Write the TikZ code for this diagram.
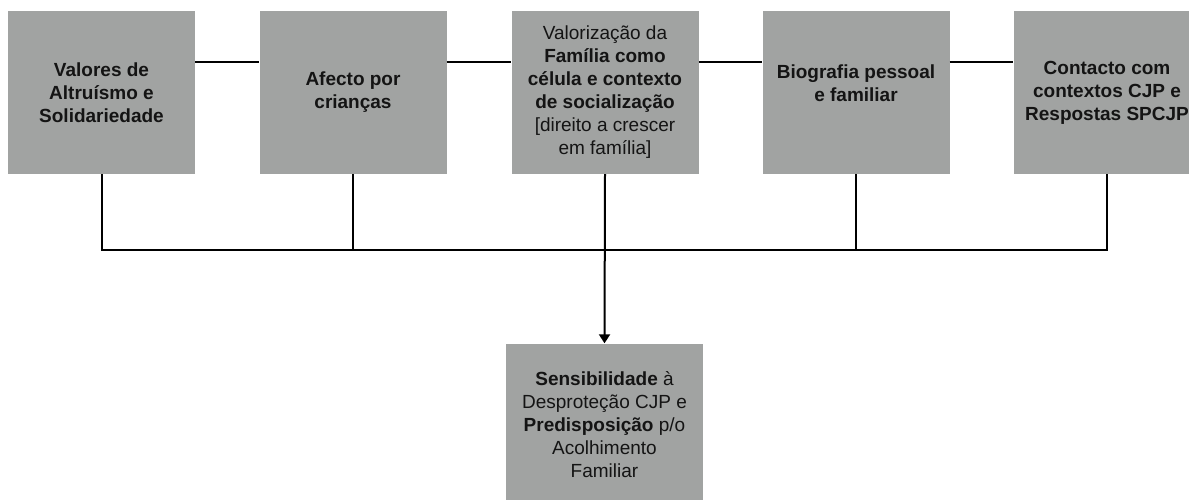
\documentclass[tikz,border=0pt]{standalone}
\usepackage{fontspec}
\setmainfont{Liberation Sans}
\usetikzlibrary{arrows.meta,calc}
\definecolor{boxgray}{RGB}{161,163,162}
\definecolor{txt}{RGB}{20,20,20}
\tikzset{
  card/.style={fill=boxgray, draw=none, minimum width=187pt, minimum height=163pt,
    inner sep=0pt, align=center, text=txt, font=\fontsize{19}{23}\selectfont},
  wire/.style={line width=2pt, draw=black},
}
\begin{document}
\begin{tikzpicture}[x=1pt,y=-1pt]
\useasboundingbox (0,0) rectangle (1189,499);
\clip (0,0) rectangle (1189,499);
\node[card] (b1) at (101.5,92.5) {\textbf{Valores de}\\\textbf{Altruísmo e}\\\textbf{Solidariedade}};
\node[card] (b2) at (353,92.5) {\textbf{Afecto por}\\\textbf{crianças}};
\node[card] (b3) at (605,92.5) {Valorização da\\\textbf{Família como}\\\textbf{célula e contexto}\\\textbf{de socialização}\\{[direito a crescer}\\em família]};
\node[card] (b4) at (856,92.5) {};
\node[font=\fontsize{19}{23}\selectfont, align=center, text=txt, inner sep=0pt] (b4t) at (856,83.5) {\textbf{Biografia pessoal}\\\textbf{e familiar}};
\node[card] (b5) at (1107,92.5) {\textbf{Contacto com}\\\textbf{contextos CJP e}\\\textbf{Respostas SPCJP}};
\node[card, minimum width=197pt] (b6) at (604.5,425) {\textbf{Sensibilidade} à\\Desproteção CJP e\\\textbf{Predisposição} p/o\\Acolhimento\\Familiar};
\coordinate (top) at (0,62);
\coordinate (bus) at (0,250);
\draw[wire] (b1.east |- top) -- (b2.west |- top);
\draw[wire] (b2.east |- top) -- (b3.west |- top);
\draw[wire] (b3.east |- top) -- (b4.west |- top);
\draw[wire] (b4.east |- top) -- (b5.west |- top);
\draw[wire] (b1.south) -- (b1.south |- bus) -- (b5.south |- bus) -- (b5.south);
\draw[wire] (b2.south) -- (b2.south |- bus);
\draw[wire] (b4.south) -- (b4.south |- bus);
\draw[wire, -{Triangle[length=9pt,width=11pt]}] (b3.south) -- (b6.north);
\end{tikzpicture}
\end{document}
